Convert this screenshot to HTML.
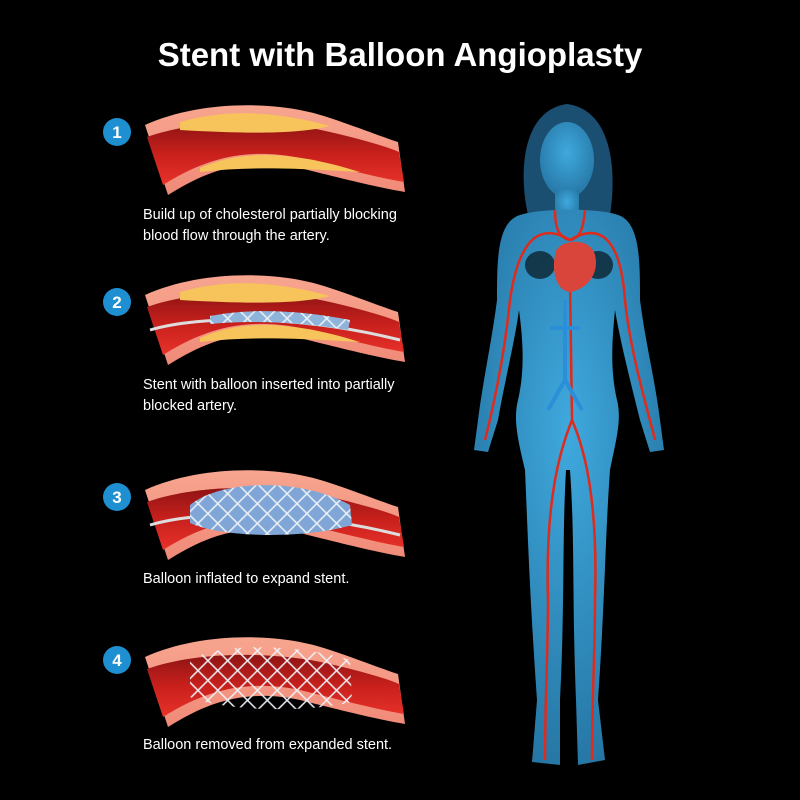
<!DOCTYPE html>
<html><head><meta charset="utf-8"><style>
html,body{margin:0;padding:0;background:#000;}
svg{display:block}
text{font-family:"Liberation Sans",sans-serif;fill:#fff}
</style></head><body>
<svg width="800" height="800" viewBox="0 0 800 800" xmlns="http://www.w3.org/2000/svg">
<defs>
<linearGradient id="wall" x1="0" y1="0" x2="0" y2="1"><stop offset="0" stop-color="#f7a58f"/><stop offset="1" stop-color="#f08a78"/></linearGradient>
<linearGradient id="lumen" x1="0" y1="0" x2="0" y2="1"><stop offset="0" stop-color="#8e1414"/><stop offset="0.5" stop-color="#c8201c"/><stop offset="1" stop-color="#e8322a"/></linearGradient>
<radialGradient id="bodyg" cx="0.5" cy="0.4" r="0.7"><stop offset="0" stop-color="#3fa9de"/><stop offset="1" stop-color="#226f9c"/></radialGradient>
<pattern id="grid" width="14" height="14" patternUnits="userSpaceOnUse" patternTransform="rotate(45)"><rect width="14" height="14" fill="none" stroke="#eef2f8" stroke-width="1.5"/></pattern>
<g id="artery">
<path d="M145,125 C200,100 280,100 330,118 C360,128 385,138 398,142 L405,192 C380,188 340,178 300,168 C240,155 200,175 168,195 Z" fill="url(#wall)"/>
<path d="M147,137 C200,118 280,120 330,132 C360,139 385,146 399,152 L404,182 C380,178 340,168 300,158 C240,146 200,162 163,185 Z" fill="url(#lumen)"/>
</g>
</defs>
<text x="400" y="66" font-size="33" font-weight="bold" text-anchor="middle">Stent with Balloon Angioplasty</text>

<use href="#artery"/>
<path d="M180,122 C230,108 280,112 330,126 C300,134 250,134 180,130Z" fill="#f6c45a"/>
<path d="M200,168 C240,150 290,150 360,172 C320,170 260,165 200,172Z" fill="#f6c45a"/>
<g transform="translate(0,170)">
<use href="#artery"/>
<path d="M180,122 C230,108 280,112 330,126 C300,134 250,134 180,130Z" fill="#f6c45a"/>
<path d="M200,168 C240,150 290,150 360,172 C320,170 260,165 200,172Z" fill="#f6c45a"/>
<path d="M150,160 C200,145 300,145 400,170" stroke="#ddd" stroke-width="3" fill="none"/>
<path d="M210,146 C250,138 300,140 350,150 L348,160 C300,152 250,150 210,154Z" fill="#8fb4dc"/>
<path d="M210,146 C250,138 300,140 350,150 L348,160 C300,152 250,150 210,154Z" fill="url(#grid)"/>
</g>
<g transform="translate(0,365)">
<use href="#artery"/>
<path d="M150,160 C200,145 300,145 400,170" stroke="#ddd" stroke-width="3" fill="none"/>
<path d="M190,140 C220,115 300,112 350,140 L352,160 C300,175 220,172 190,158Z" fill="#7fa6d6"/>
<path d="M190,140 C220,115 300,112 350,140 L352,160 C300,175 220,172 190,158Z" fill="url(#grid)"/>
</g>
<g transform="translate(0,532)">
<use href="#artery"/>
<path d="M190,128 C220,110 300,112 350,128 L352,170 C300,182 220,178 190,165Z" fill="url(#grid)"/>
</g>

<g font-size="14.5">
<text x="143" y="219">Build up of cholesterol partially blocking</text>
<text x="143" y="240">blood flow through the artery.</text>
<text x="143" y="389">Stent with balloon inserted into partially</text>
<text x="143" y="410">blocked artery.</text>
<text x="143" y="583">Balloon inflated to expand stent.</text>
<text x="143" y="749">Balloon removed from expanded stent.</text>
</g>
<g font-size="17" font-weight="bold" text-anchor="middle">
<circle cx="117" cy="132" r="14" fill="#1e8fd0"/><text x="117" y="138">1</text>
<circle cx="117" cy="302" r="14" fill="#1e8fd0"/><text x="117" y="308">2</text>
<circle cx="117" cy="497" r="14" fill="#1e8fd0"/><text x="117" y="503">3</text>
<circle cx="117" cy="660" r="14" fill="#1e8fd0"/><text x="117" y="666">4</text>
</g>

<path d="M528,215 C518,170 523,110 567,104 C612,110 617,170 610,215 Z" fill="#1a4f72"/>
<g fill="url(#bodyg)">
<ellipse cx="567" cy="160" rx="27" ry="38"/>
<rect x="555" y="190" width="24" height="30"/>
<path d="M520,215 C540,208 600,208 618,215 C640,222 640,260 640,300 C645,340 655,380 660,420 L664,450 L650,452 L640,420 C630,380 620,340 615,310 C612,340 610,370 617,400 C622,420 616,440 610,470 C605,540 605,600 598,700 L605,760 L578,765 L576,700 C572,600 575,540 570,470 L566,470 C562,540 565,600 560,700 L560,765 L532,762 L537,700 C530,600 528,540 525,470 C518,440 513,420 518,400 C525,370 523,340 519,310 C515,340 505,380 498,420 L488,452 L474,450 L478,420 C483,380 492,340 497,300 C497,260 497,222 520,215Z"/>
</g>
<ellipse cx="540" cy="265" rx="15" ry="14" fill="#000" opacity="0.6"/>
<ellipse cx="598" cy="265" rx="15" ry="14" fill="#000" opacity="0.6"/>
<g stroke="#e02a1c" fill="none" stroke-width="2.5">
<path d="M555,210 C555,230 560,238 570,240 C580,238 583,230 585,210"/>
<path d="M570,240 C545,225 520,230 510,300 C505,350 495,400 485,440"/>
<path d="M570,240 C595,225 620,230 625,300 C630,350 645,400 655,440"/>
<path d="M570,280 L572,420 C560,450 545,500 548,600 C548,650 545,700 545,760"/>
<path d="M572,420 C585,450 598,500 595,600 C595,650 592,700 592,760"/>
</g>
<path d="M555,255 C555,240 590,235 595,255 C600,275 585,290 570,292 C555,290 552,270 555,255Z" fill="#d9453a"/>
<g stroke="#2a8fd8" fill="none" stroke-width="4">
<path d="M565,300 L565,380 L548,410"/><path d="M565,380 L582,410"/><path d="M550,328 L580,328"/>
</g>
</svg>
</body></html>
